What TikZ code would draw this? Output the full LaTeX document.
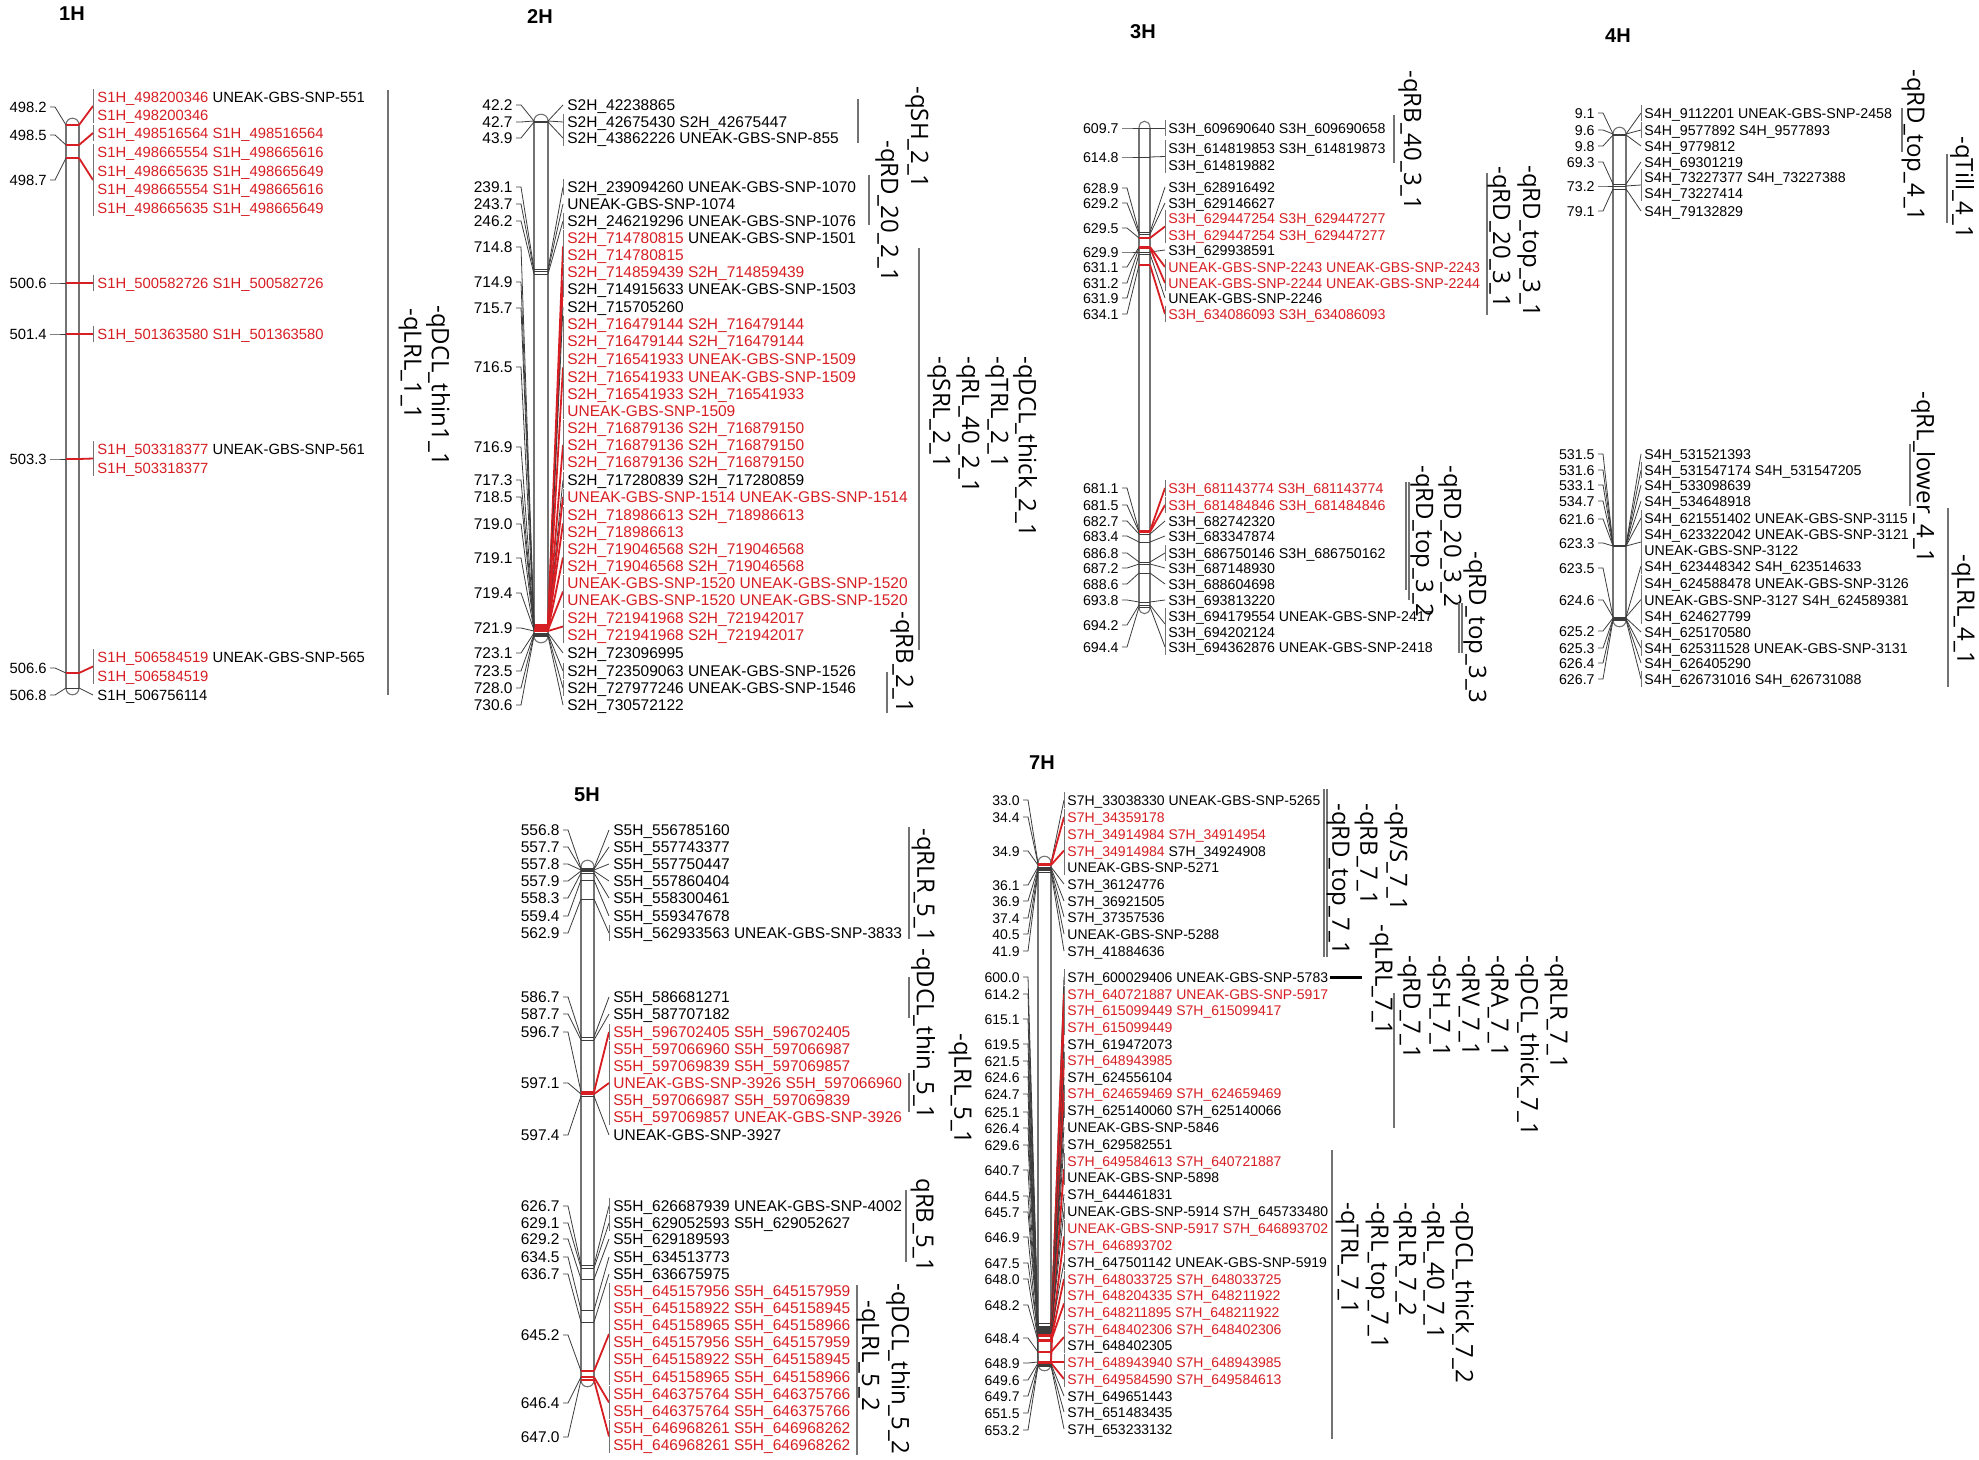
\documentclass[tikz,border=0pt]{standalone}
\usepackage{fontspec}
\setmainfont{Liberation Sans}
\newfontfamily\qfont{Open Sans}
\definecolor{qred}{RGB}{215,30,35}
\definecolor{lg}{RGB}{115,115,115}
\definecolor{dg}{RGB}{60,60,60}
\newcounter{mk}\newcounter{tl}\newcounter{ql}
\newcommand\R[1]{\textcolor{qred}{#1}}
\newcommand\mf{\fontsize{\fs}{\fs}\selectfont}
\newcommand\setchr[7]{\def\nx{#1}\def\bl{#2}\def\br{#3}\def\gx{#4}\def\tx{#5}\def\fs{#6}\def\yo{#7}}
\newcommand\chr[3]{%
 \coordinate (#1-top) at ({(\bl+\br)/2},#2);
 \coordinate (#1-bot) at ({(\bl+\br)/2},#3);
 \draw[barl] (\bl,#2) -- (\bl,#3);
 \draw[barl] (\br,#2) -- (\br,#3);
 \draw[barl] (\bl,#2) .. controls (\bl,#2-9) and (\br,#2-9) .. (\br,#2);
 \draw[barl] (\bl,#3) .. controls (\bl,#3+9) and (\br,#3+9) .. (\br,#3);}
\newcommand\mk[7]{%
 \stepcounter{mk}\edef\nm{m\arabic{mk}}%
 \node[numlab] (\nm-n) at (\nx,#2+\yo) {#1};
 \coordinate (\nm-l) at (\nx+3,#2);
 \coordinate (\nm-k) at (\nx+8,#2);
 \coordinate (\nm-a) at (\bl,#3);
 \coordinate (\nm-b) at (\br,#3);
 \coordinate (\nm-g) at (\gx,{(#5+#6)/2});
 \draw[lconn] (\nm-l) -- (\nm-k) -- (\nm-a);
 \draw[tick #4] (\nm-a) -- (\nm-b);
 \draw[rc #4] (\nm-b) -- (\nm-g);
 \ifnum#7=1 \draw[gbar] (\gx,{#5-8}) -- (\gx,{#6+8});\fi}
\newcommand\tl[2]{\stepcounter{tl}\node[mlab] (t\arabic{tl}) at (\tx,#1+\yo) {#2};}
\newcommand\ql[3]{\draw[qline] (#1,#2) -- (#1,#3);}
\newcommand\qt[3]{\stepcounter{ql}\node[qlab] (q\arabic{ql}) at (#1,#2) {#3};}
\begin{document}
\begin{tikzpicture}[x=0.5pt,y=-0.5pt,
 numlab/.style={anchor=base east, inner sep=0pt, font=\mf},
 mlab/.style={anchor=base west, inner sep=0pt, font=\mf},
 qlab/.style={rotate=-90, anchor=west, inner sep=0pt, font=\qfont\fontsize{12}{12}\selectfont},
 title/.style={font=\bfseries\fontsize{10}{10}\selectfont, inner sep=0pt},
 barl/.style={draw=lg, line width=0.55pt},
 lconn/.style={draw=dg, line width=0.4pt},
 tick gt/.style={draw=dg, line width=0.4pt},
 tick rt/.style={draw=qred, line width=1.4pt},
 rc gt/.style={draw=dg, line width=0.4pt},
 rc rt/.style={draw=qred, line width=0.9pt},
 gbar/.style={draw=lg, line width=0.5pt},
 qline/.style={draw=lg, line width=0.6pt}]
\useasboundingbox[fill=white] (0,0) rectangle (1979,1460);
% titles
\node[title] (h1) at (72,14) {1H};
\node[title] (h2) at (540,17) {2H};
\node[title] (h3) at (1143,32) {3H};
\node[title] (h4) at (1618,36) {4H};
\node[title] (h5) at (587,795) {5H};
\node[title] (h7) at (1042,763) {7H};
% ---------------- 1H
\setchr{47}{66}{79}{93}{97}{7.4}{5.3}
\chr{c1}{125}{688}
\mk{498.2}{107}{125}{rt}{97}{115}{1}
\mk{498.5}{135}{145}{rt}{133}{133}{1}
\mk{498.7}{180}{158}{rt}{152}{208}{1}
\mk{500.6}{283}{283}{rt}{283}{283}{1}
\mk{501.4}{334}{334}{rt}{334}{334}{1}
\mk{503.3}{459}{459}{rt}{449}{468}{1}
\mk{506.6}{668}{673}{rt}{657}{676}{1}
\mk{506.8}{695}{688}{gt}{695}{695}{0}
\tl{97}{\R{S1H\_498200346} UNEAK-GBS-SNP-551}
\tl{115}{\R{S1H\_498200346}}
\tl{133}{\R{S1H\_498516564 S1H\_498516564}}
\tl{152}{\R{S1H\_498665554 S1H\_498665616}}
\tl{171}{\R{S1H\_498665635 S1H\_498665649}}
\tl{189}{\R{S1H\_498665554 S1H\_498665616}}
\tl{208}{\R{S1H\_498665635 S1H\_498665649}}
\tl{283}{\R{S1H\_500582726 S1H\_500582726}}
\tl{334}{\R{S1H\_501363580 S1H\_501363580}}
\tl{449}{\R{S1H\_503318377} UNEAK-GBS-SNP-561}
\tl{468}{\R{S1H\_503318377}}
\tl{657}{\R{S1H\_506584519} UNEAK-GBS-SNP-565}
\tl{676}{\R{S1H\_506584519}}
\tl{695}{S1H\_506756114}
\ql{388}{90}{695}
\qt{410}{308}{-qLRL\_1\_1}
\qt{438}{305}{-qDCL\_thin1\_1}
% ---------------- 2H
\setchr{513}{534}{548}{563}{567}{7.75}{5.5}
\chr{c2}{121}{636}
\mk{42.2}{105}{121}{gt}{105}{105}{0}
\mk{42.7}{122}{121}{gt}{122}{122}{1}
\mk{43.9}{138}{122}{gt}{138}{138}{1}
\mk{239.1}{187}{269}{gt}{187}{187}{1}
\mk{243.7}{204}{271}{gt}{204}{204}{0}
\mk{246.2}{221}{274}{gt}{221}{221}{1}
\mk{714.8}{247}{625}{rt}{238}{255}{1}
\mk{714.9}{282}{626}{rt}{272}{289}{1}
\mk{715.7}{308}{627}{gt}{307}{307}{0}
\mk{716.5}{367}{627}{rt}{324}{411}{1}
\mk{716.9}{447}{628}{rt}{428}{462}{1}
\mk{717.3}{480}{628}{gt}{480}{480}{1}
\mk{718.5}{497}{629}{rt}{497}{497}{1}
\mk{719.0}{524}{629}{rt}{515}{532}{1}
\mk{719.1}{558}{630}{rt}{549}{566}{1}
\mk{719.4}{593}{630}{rt}{583}{600}{1}
\mk{721.9}{628}{631}{rt}{618}{635}{1}
\mk{723.1}{653}{633}{gt}{653}{653}{0}
\mk{723.5}{671}{634}{gt}{671}{671}{1}
\mk{728.0}{688}{635}{gt}{688}{688}{1}
\mk{730.6}{705}{636}{gt}{705}{705}{0}
\tl{105}{S2H\_42238865}
\tl{122}{S2H\_42675430 S2H\_42675447}
\tl{138}{S2H\_43862226 UNEAK-GBS-SNP-855}
\tl{187}{S2H\_239094260 UNEAK-GBS-SNP-1070}
\tl{204}{UNEAK-GBS-SNP-1074}
\tl{221}{S2H\_246219296 UNEAK-GBS-SNP-1076}
\tl{238}{\R{S2H\_714780815} UNEAK-GBS-SNP-1501}
\tl{255}{\R{S2H\_714780815}}
\tl{272}{\R{S2H\_714859439 S2H\_714859439}}
\tl{289}{S2H\_714915633 UNEAK-GBS-SNP-1503}
\tl{307}{S2H\_715705260}
\tl{324}{\R{S2H\_716479144 S2H\_716479144}}
\tl{341}{\R{S2H\_716479144 S2H\_716479144}}
\tl{359}{\R{S2H\_716541933 UNEAK-GBS-SNP-1509}}
\tl{377}{\R{S2H\_716541933 UNEAK-GBS-SNP-1509}}
\tl{394}{\R{S2H\_716541933 S2H\_716541933}}
\tl{411}{\R{UNEAK-GBS-SNP-1509}}
\tl{428}{\R{S2H\_716879136 S2H\_716879150}}
\tl{445}{\R{S2H\_716879136 S2H\_716879150}}
\tl{462}{\R{S2H\_716879136 S2H\_716879150}}
\tl{480}{S2H\_717280839 S2H\_717280859}
\tl{497}{\R{UNEAK-GBS-SNP-1514 UNEAK-GBS-SNP-1514}}
\tl{515}{\R{S2H\_718986613 S2H\_718986613}}
\tl{532}{\R{S2H\_718986613}}
\tl{549}{\R{S2H\_719046568 S2H\_719046568}}
\tl{566}{\R{S2H\_719046568 S2H\_719046568}}
\tl{583}{\R{UNEAK-GBS-SNP-1520 UNEAK-GBS-SNP-1520}}
\tl{600}{\R{UNEAK-GBS-SNP-1520 UNEAK-GBS-SNP-1520}}
\tl{618}{\R{S2H\_721941968 S2H\_721942017}}
\tl{635}{\R{S2H\_721941968 S2H\_721942017}}
\tl{653}{S2H\_723096995}
\tl{671}{S2H\_723509063 UNEAK-GBS-SNP-1526}
\tl{688}{S2H\_727977246 UNEAK-GBS-SNP-1546}
\tl{705}{S2H\_730572122}
\ql{858}{99}{143}
\qt{917}{86}{-qSH\_2\_1}
\ql{869}{175}{225}
\qt{887}{140}{-qRD\_20\_2\_1}
\ql{919}{248}{650}
\qt{939}{356}{-qSRL\_2\_1}
\qt{968}{356}{-qRL\_40\_2\_1}
\qt{997}{356}{-qTRL\_2\_1}
\qt{1025}{356}{-qDCL\_thick\_2\_1}
\ql{887}{672}{713}
\qt{902}{611}{-qRB\_2\_1}
% ---------------- 3H
\setchr{1119}{1139}{1150}{1165}{1168}{7.1}{5.1}
\chr{c3}{128}{607}
\mk{609.7}{128}{128}{gt}{128}{128}{1}
\mk{614.8}{157}{157}{gt}{148}{165}{1}
\mk{628.9}{188}{232}{gt}{187}{187}{0}
\mk{629.2}{203}{234}{gt}{203}{203}{0}
\mk{629.5}{228}{238}{rt}{218}{235}{1}
\mk{629.9}{252}{252}{gt}{250}{250}{0}
\mk{631.1}{267}{247}{rt}{267}{267}{1}
\mk{631.2}{283}{248}{rt}{283}{283}{1}
\mk{631.9}{298}{254}{gt}{298}{298}{0}
\mk{634.1}{314}{265}{rt}{314}{314}{1}
\mk{681.1}{488}{531}{rt}{488}{488}{1}
\mk{681.5}{505}{532}{rt}{505}{505}{1}
\mk{682.7}{521}{534}{gt}{521}{521}{0}
\mk{683.4}{536}{542}{gt}{536}{536}{0}
\mk{686.8}{553}{562}{gt}{553}{553}{1}
\mk{687.2}{568}{564}{gt}{568}{568}{0}
\mk{688.6}{584}{573}{gt}{584}{584}{0}
\mk{693.8}{600}{602}{gt}{600}{600}{0}
\mk{694.2}{625}{605}{gt}{616}{632}{1}
\mk{694.4}{647}{607}{gt}{647}{647}{1}
\tl{128}{S3H\_609690640 S3H\_609690658}
\tl{148}{S3H\_614819853 S3H\_614819873}
\tl{165}{S3H\_614819882}
\tl{187}{S3H\_628916492}
\tl{203}{S3H\_629146627}
\tl{218}{\R{S3H\_629447254 S3H\_629447277}}
\tl{235}{\R{S3H\_629447254 S3H\_629447277}}
\tl{250}{S3H\_629938591}
\tl{267}{\R{UNEAK-GBS-SNP-2243 UNEAK-GBS-SNP-2243}}
\tl{283}{\R{UNEAK-GBS-SNP-2244 UNEAK-GBS-SNP-2244}}
\tl{298}{UNEAK-GBS-SNP-2246}
\tl{314}{\R{S3H\_634086093 S3H\_634086093}}
\tl{488}{\R{S3H\_681143774 S3H\_681143774}}
\tl{505}{\R{S3H\_681484846 S3H\_681484846}}
\tl{521}{S3H\_682742320}
\tl{536}{S3H\_683347874}
\tl{553}{S3H\_686750146 S3H\_686750162}
\tl{568}{S3H\_687148930}
\tl{584}{S3H\_688604698}
\tl{600}{S3H\_693813220}
\tl{616}{S3H\_694179554 UNEAK-GBS-SNP-2417}
\tl{632}{S3H\_694202124}
\tl{647}{S3H\_694362876 UNEAK-GBS-SNP-2418}
\ql{1394}{115}{163}
\qt{1410}{70}{-qRB\_40\_3\_1}
\ql{1487}{173}{315}
\qt{1499}{166}{-qRD\_20\_3\_1}
\qt{1529}{165}{-qRD\_top\_3\_1}
\ql{1406}{482}{590}
\ql{1409}{482}{600}
\qt{1422}{465}{-qRD\_top\_3\_2}
\qt{1450}{465}{-qRD\_20\_3\_2}
\ql{1459}{603}{653}
\ql{1462}{603}{653}
\qt{1475}{551}{-qRD\_top\_3\_3}
% ---------------- 4H
\setchr{1595}{1613}{1626}{1641}{1644}{7.1}{5.1}
\chr{c4}{134}{620}
\mk{9.1}{113}{134}{gt}{113}{113}{1}
\mk{9.6}{130}{134}{gt}{130}{130}{1}
\mk{9.8}{146}{135}{gt}{146}{146}{0}
\mk{69.3}{162}{184}{gt}{162}{162}{0}
\mk{73.2}{186}{186}{gt}{177}{193}{1}
\mk{79.1}{211}{189}{gt}{211}{211}{0}
\mk{531.5}{454}{545}{gt}{454}{454}{0}
\mk{531.6}{470}{545}{gt}{470}{470}{1}
\mk{533.1}{485}{545}{gt}{485}{485}{0}
\mk{534.7}{501}{546}{gt}{501}{501}{0}
\mk{621.6}{519}{546}{gt}{518}{518}{1}
\mk{623.3}{543}{546}{gt}{534}{550}{1}
\mk{623.5}{568}{617}{gt}{566}{566}{1}
\mk{624.6}{600}{617}{gt}{583}{616}{1}
\mk{625.2}{631}{618}{gt}{632}{632}{0}
\mk{625.3}{648}{619}{gt}{648}{648}{1}
\mk{626.4}{663}{619}{gt}{663}{663}{0}
\mk{626.7}{679}{620}{gt}{679}{679}{1}
\tl{113}{S4H\_9112201 UNEAK-GBS-SNP-2458}
\tl{130}{S4H\_9577892 S4H\_9577893}
\tl{146}{S4H\_9779812}
\tl{162}{S4H\_69301219}
\tl{177}{S4H\_73227377 S4H\_73227388}
\tl{193}{S4H\_73227414}
\tl{211}{S4H\_79132829}
\tl{454}{S4H\_531521393}
\tl{470}{S4H\_531547174 S4H\_531547205}
\tl{485}{S4H\_533098639}
\tl{501}{S4H\_534648918}
\tl{518}{S4H\_621551402 UNEAK-GBS-SNP-3115}
\tl{534}{S4H\_623322042 UNEAK-GBS-SNP-3121}
\tl{550}{UNEAK-GBS-SNP-3122}
\tl{566}{S4H\_623448342 S4H\_623514633}
\tl{583}{S4H\_624588478 UNEAK-GBS-SNP-3126}
\tl{600}{UNEAK-GBS-SNP-3127 S4H\_624589381}
\tl{616}{S4H\_624627799}
\tl{632}{S4H\_625170580}
\tl{648}{S4H\_625311528 UNEAK-GBS-SNP-3131}
\tl{663}{S4H\_626405290}
\tl{679}{S4H\_626731016 S4H\_626731088}
\ql{1902}{108}{152}
\qt{1913}{69}{-qRD\_top\_4\_1}
\ql{1947}{154}{223}
\qt{1962}{136}{-qTill\_4\_1}
\ql{1910}{444}{506}
\qt{1923}{391}{-qRL\_lower\_4\_1}
\ql{1948}{508}{687}
\qt{1963}{554}{-qLRL\_4\_1}
% ---------------- 5H
\setchr{560}{581}{594}{609}{613}{7.75}{5.5}
\chr{c5}{867}{1380}
\mk{556.8}{830}{868}{gt}{830}{830}{0}
\mk{557.7}{847}{869}{gt}{847}{847}{0}
\mk{557.8}{864}{870}{gt}{864}{864}{0}
\mk{557.9}{881}{871}{gt}{881}{881}{0}
\mk{558.3}{898}{873}{gt}{898}{898}{0}
\mk{559.4}{916}{880}{gt}{916}{916}{0}
\mk{562.9}{933}{899}{gt}{933}{933}{1}
\mk{586.7}{997}{1037}{gt}{997}{997}{0}
\mk{587.7}{1014}{1040}{gt}{1014}{1014}{0}
\mk{596.7}{1032}{1092}{rt}{1032}{1032}{1}
\mk{597.1}{1083}{1094}{rt}{1049}{1117}{1}
\mk{597.4}{1135}{1096}{gt}{1135}{1135}{0}
\mk{626.7}{1206}{1265}{gt}{1206}{1206}{1}
\mk{629.1}{1223}{1268}{gt}{1223}{1223}{1}
\mk{629.2}{1239}{1279}{gt}{1239}{1239}{0}
\mk{634.5}{1257}{1310}{gt}{1257}{1257}{0}
\mk{636.7}{1274}{1322}{gt}{1274}{1274}{0}
\mk{645.2}{1335}{1371}{rt}{1291}{1377}{1}
\mk{646.4}{1403}{1377}{rt}{1394}{1411}{1}
\mk{647.0}{1437}{1380}{rt}{1428}{1445}{1}
\tl{830}{S5H\_556785160}
\tl{847}{S5H\_557743377}
\tl{864}{S5H\_557750447}
\tl{881}{S5H\_557860404}
\tl{898}{S5H\_558300461}
\tl{916}{S5H\_559347678}
\tl{933}{S5H\_562933563 UNEAK-GBS-SNP-3833}
\tl{997}{S5H\_586681271}
\tl{1014}{S5H\_587707182}
\tl{1032}{\R{S5H\_596702405 S5H\_596702405}}
\tl{1049}{\R{S5H\_597066960 S5H\_597066987}}
\tl{1066}{\R{S5H\_597069839 S5H\_597069857}}
\tl{1083}{\R{UNEAK-GBS-SNP-3926 S5H\_597066960}}
\tl{1100}{\R{S5H\_597066987 S5H\_597069839}}
\tl{1117}{\R{S5H\_597069857 UNEAK-GBS-SNP-3926}}
\tl{1135}{UNEAK-GBS-SNP-3927}
\tl{1206}{S5H\_626687939 UNEAK-GBS-SNP-4002}
\tl{1223}{S5H\_629052593 S5H\_629052627}
\tl{1239}{S5H\_629189593}
\tl{1257}{S5H\_634513773}
\tl{1274}{S5H\_636675975}
\tl{1291}{\R{S5H\_645157956 S5H\_645157959}}
\tl{1308}{\R{S5H\_645158922 S5H\_645158945}}
\tl{1325}{\R{S5H\_645158965 S5H\_645158966}}
\tl{1342}{\R{S5H\_645157956 S5H\_645157959}}
\tl{1359}{\R{S5H\_645158922 S5H\_645158945}}
\tl{1377}{\R{S5H\_645158965 S5H\_645158966}}
\tl{1394}{\R{S5H\_646375764 S5H\_646375766}}
\tl{1411}{\R{S5H\_646375764 S5H\_646375766}}
\tl{1428}{\R{S5H\_646968261 S5H\_646968262}}
\tl{1445}{\R{S5H\_646968261 S5H\_646968262}}
\ql{909}{827}{939}
\qt{923}{828}{-qRLR\_5\_1}
\ql{909}{977}{1018}
\qt{923}{948}{-qDCL\_thin\_5\_1}
\ql{909}{1073}{1112}
\qt{960}{1033}{-qLRL\_5\_1}
\ql{906}{1190}{1262}
\qt{922}{1178}{qRB\_5\_1}
\ql{857}{1285}{1455}
\qt{868}{1300}{-qLRL\_5\_2}
\qt{898}{1283}{-qDCL\_thin\_5\_2}
% ---------------- 7H
\setchr{1020}{1038}{1051}{1064}{1067}{7.0}{5}
\chr{c7}{863}{1364}
\mk{33.0}{800}{863}{gt}{800}{800}{1}
\mk{34.4}{817}{864}{rt}{817}{817}{1}
\mk{34.9}{851}{865}{rt}{834}{867}{1}
\mk{36.1}{885}{867}{gt}{884}{884}{0}
\mk{36.9}{901}{868}{gt}{901}{901}{0}
\mk{37.4}{918}{869}{gt}{917}{917}{0}
\mk{40.5}{934}{870}{gt}{934}{934}{0}
\mk{41.9}{951}{872}{gt}{951}{951}{0}
\mk{600.0}{977}{1323}{gt}{977}{977}{1}
\mk{614.2}{994}{1335}{rt}{994}{994}{1}
\mk{615.1}{1019}{1335}{rt}{1010}{1027}{1}
\mk{619.5}{1044}{1326}{gt}{1044}{1044}{0}
\mk{621.5}{1061}{1362}{rt}{1060}{1060}{1}
\mk{624.6}{1077}{1327}{gt}{1077}{1077}{0}
\mk{624.7}{1094}{1336}{rt}{1093}{1093}{1}
\mk{625.1}{1112}{1328}{gt}{1110}{1110}{1}
\mk{626.4}{1128}{1329}{gt}{1127}{1127}{0}
\mk{629.6}{1145}{1330}{gt}{1144}{1144}{0}
\mk{640.7}{1170}{1335}{rt}{1161}{1177}{1}
\mk{644.5}{1196}{1331}{gt}{1194}{1194}{0}
\mk{645.7}{1212}{1332}{gt}{1211}{1211}{1}
\mk{646.9}{1237}{1340}{rt}{1228}{1245}{1}
\mk{647.5}{1263}{1333}{gt}{1262}{1262}{1}
\mk{648.0}{1279}{1340}{rt}{1279}{1279}{1}
\mk{648.2}{1305}{1341}{rt}{1295}{1312}{1}
\mk{648.4}{1338}{1352}{rt}{1329}{1345}{1}
\mk{648.9}{1363}{1362}{rt}{1362}{1362}{1}
\mk{649.6}{1380}{1363}{rt}{1379}{1379}{1}
\mk{649.7}{1396}{1364}{gt}{1396}{1396}{0}
\mk{651.5}{1413}{1365}{gt}{1412}{1412}{0}
\mk{653.2}{1430}{1366}{gt}{1429}{1429}{0}
\tl{800}{S7H\_33038330 UNEAK-GBS-SNP-5265}
\tl{817}{\R{S7H\_34359178}}
\tl{834}{\R{S7H\_34914984 S7H\_34914954}}
\tl{851}{\R{S7H\_34914984} S7H\_34924908}
\tl{867}{UNEAK-GBS-SNP-5271}
\tl{884}{S7H\_36124776}
\tl{901}{S7H\_36921505}
\tl{917}{S7H\_37357536}
\tl{934}{UNEAK-GBS-SNP-5288}
\tl{951}{S7H\_41884636}
\tl{977}{S7H\_600029406 UNEAK-GBS-SNP-5783}
\tl{994}{\R{S7H\_640721887 UNEAK-GBS-SNP-5917}}
\tl{1010}{\R{S7H\_615099449 S7H\_615099417}}
\tl{1027}{\R{S7H\_615099449}}
\tl{1044}{S7H\_619472073}
\tl{1060}{\R{S7H\_648943985}}
\tl{1077}{S7H\_624556104}
\tl{1093}{\R{S7H\_624659469 S7H\_624659469}}
\tl{1110}{S7H\_625140060 S7H\_625140066}
\tl{1127}{UNEAK-GBS-SNP-5846}
\tl{1144}{S7H\_629582551}
\tl{1161}{\R{S7H\_649584613 S7H\_640721887}}
\tl{1177}{UNEAK-GBS-SNP-5898}
\tl{1194}{S7H\_644461831}
\tl{1211}{UNEAK-GBS-SNP-5914 S7H\_645733480}
\tl{1228}{\R{UNEAK-GBS-SNP-5917 S7H\_646893702}}
\tl{1245}{\R{S7H\_646893702}}
\tl{1262}{S7H\_647501142 UNEAK-GBS-SNP-5919}
\tl{1279}{\R{S7H\_648033725 S7H\_648033725}}
\tl{1295}{\R{S7H\_648204335 S7H\_648211922}}
\tl{1312}{\R{S7H\_648211895 S7H\_648211922}}
\tl{1329}{\R{S7H\_648402306 S7H\_648402306}}
\tl{1345}{S7H\_648402305}
\tl{1362}{\R{S7H\_648943940 S7H\_648943985}}
\tl{1379}{\R{S7H\_649584590 S7H\_649584613}}
\tl{1396}{S7H\_649651443}
\tl{1412}{S7H\_651483435}
\tl{1429}{S7H\_653233132}
\ql{1324}{789}{957}
\ql{1327}{789}{957}
\qt{1338}{803}{-qRD\_top\_7\_1}
\qt{1366}{803}{-qRB\_7\_1}
\qt{1396}{803}{-qR/S\_7\_1}
\qt{1381}{924}{-qLRL\_7\_1}
\draw[line width=1.5pt] (1330,977) -- (1362,977);
\ql{1394}{993}{1128}
\qt{1409}{955}{-qRD\_7\_1}
\qt{1439}{955}{-qSH\_7\_1}
\qt{1468}{955}{-qRV\_7\_1}
\qt{1497}{955}{-qRA\_7\_1}
\qt{1527}{955}{-qDCL\_thick\_7\_1}
\qt{1556}{955}{-qRLR\_7\_1}
\ql{1332}{1150}{1439}
\qt{1347}{1202}{-qTRL\_7\_1}
\qt{1377}{1202}{-qRL\_top\_7\_1}
\qt{1405}{1202}{-qRLR\_7\_2}
\qt{1433}{1202}{-qRL\_40\_7\_1}
\qt{1462}{1202}{-qDCL\_thick\_7\_2}
\end{tikzpicture}
\end{document}
